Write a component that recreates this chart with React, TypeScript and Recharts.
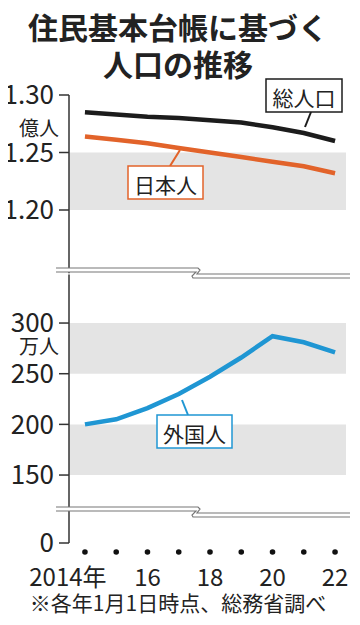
import { LineChart, Line, XAxis, YAxis, ReferenceArea } from "recharts";

const YEARS = [2014, 2015, 2016, 2017, 2018, 2019, 2020, 2021, 2022];
// 億人
const TOTAL = [1.285, 1.283, 1.281, 1.28, 1.278, 1.276, 1.272, 1.267, 1.26];
const JAPANESE = [1.264, 1.261, 1.258, 1.254, 1.25, 1.246, 1.242, 1.238, 1.232];
// 万人
const FOREIGN = [200, 205, 216, 230, 247, 266, 287, 281, 271];

const TOP_TICKS = [1.2, 1.25, 1.3];
const BOTTOM_TICKS = [150, 200, 250, 300];
const X_LABELS: Record<number, string> = { 2014: "2014年", 2016: "16", 2018: "18", 2020: "20", 2022: "22" };

const topData = YEARS.map((year, i) => ({ year, total: TOTAL[i], japanese: JAPANESE[i] }));
const bottomData = YEARS.map((year, i) => ({ year, foreign: FOREIGN[i] }));
const axisData = YEARS.map((year) => ({ year }));

const XMIN = 2013.49;
const XMAX = 2022.35;
const NARROW = "'Liberation Sans Narrow', 'Arial Narrow', 'Noto Sans CJK JP', sans-serif";
const JP = "'Noto Sans CJK JP', sans-serif";
const AXIS = "#333";
const BAND = "#e4e4e4";
const BLACK = "#1c1c1c";
const ORANGE = "#e2632a";
const BLUE = "#1f96d3";

const yAxisProps = {
  width: 69,
  tickSize: 10,
  tickMargin: 5,
  axisLine: { stroke: AXIS, strokeWidth: 1.5 },
  tickLine: { stroke: AXIS, strokeWidth: 1.5 },
  tick: { fontSize: 26, fill: "#222", fontFamily: NARROW },
  allowDataOverflow: true,
};

const YearTick = ({ x, y, payload }: any) => {
  const label = X_LABELS[payload.value];
  return (
    <g>
      <circle cx={x} cy={y + 9} r={2.8} fill="#111" />
      {label && (
        <text
          x={payload.value === 2014 ? x - 17 : x}
          y={y + 32}
          textAnchor="middle"
          dominantBaseline="central"
          fontSize={24}
          fontFamily={NARROW}
          fill="#222"
        >
          {label}
        </text>
      )}
    </g>
  );
};

const Break = ({ y }: { y: number }) => (
  <g>
    <polygon
      points={`56,${y} 198,${y} 200,${y + 2} 197,${y + 6} 350,${y + 6} 350,${y + 10} 193,${y + 10} 192,${y + 8} 196,${y + 4} 56,${y + 4}`}
      fill="#fff"
    />
    <polyline points={`56,${y} 198,${y} 200,${y + 2} 197,${y + 6} 350,${y + 6}`} fill="none" stroke="#777" strokeWidth={1.2} />
    <polyline points={`56,${y + 4} 196,${y + 4} 192,${y + 8} 193,${y + 10} 350,${y + 10}`} fill="none" stroke="#777" strokeWidth={1.2} />
  </g>
);

const Callout = ({ x, y, w, h, text, color, from, to }: any) => (
  <g>
    <line x1={from[0]} y1={from[1]} x2={to[0]} y2={to[1]} stroke={color} strokeWidth={2} />
    <rect x={x} y={y} width={w} height={h} fill="#fff" stroke={color} strokeWidth={1.5} />
    <text x={x + w / 2} y={y + h / 2 + 1} textAnchor="middle" dominantBaseline="central" fontSize={21} fontFamily={JP} fill="#222">
      {text}
    </text>
  </g>
);

export default function App() {
  return (
    <div style={{ position: "relative", width: 360, height: 625, margin: -8, background: "#fff" }}>
      <div style={{ position: "absolute", left: 0, top: 0 }}>
        <LineChart width={360} height={625} data={topData} margin={{ top: 95, right: 14, bottom: 625 - 273.25, left: 0 }}>
          <XAxis dataKey="year" type="number" domain={[XMIN, XMAX]} hide />
          <YAxis {...yAxisProps} domain={[1.145, 1.3]} ticks={TOP_TICKS} tickFormatter={(v: number) => v.toFixed(2)} />
          <ReferenceArea y1={1.2} y2={1.25} fill={BAND} fillOpacity={1} stroke="none" />
          <Line dataKey="total" stroke={BLACK} strokeWidth={4.5} dot={false} isAnimationActive={false} />
          <Line dataKey="japanese" stroke={ORANGE} strokeWidth={4.5} dot={false} isAnimationActive={false} />
        </LineChart>
      </div>
      <div style={{ position: "absolute", left: 0, top: 0 }}>
        <LineChart width={360} height={625} data={bottomData} margin={{ top: 274.4, right: 14, bottom: 625 - 509.5, left: 0 }}>
          <XAxis dataKey="year" type="number" domain={[XMIN, XMAX]} hide />
          <YAxis {...yAxisProps} domain={[116, 348]} ticks={BOTTOM_TICKS} />
          <ReferenceArea y1={250} y2={300} fill={BAND} fillOpacity={1} stroke="none" />
          <ReferenceArea y1={150} y2={200} fill={BAND} fillOpacity={1} stroke="none" />
          <Line dataKey="foreign" stroke={BLUE} strokeWidth={4.5} dot={false} isAnimationActive={false} />
        </LineChart>
      </div>
      <div style={{ position: "absolute", left: 0, top: 0 }}>
        <LineChart width={360} height={625} data={axisData} margin={{ top: 511, right: 14, bottom: 22, left: 0 }}>
          <XAxis
            dataKey="year"
            type="number"
            domain={[XMIN, XMAX]}
            ticks={YEARS}
            axisLine={false}
            tickLine={false}
            tickSize={0}
            tickMargin={0}
            height={60}
            interval={0}
            tick={<YearTick />}
          />
          <YAxis {...yAxisProps} domain={[0, 30]} ticks={[0]} />
        </LineChart>
      </div>
      <svg width={360} height={625} style={{ position: "absolute", left: 0, top: 0, pointerEvents: "none" }}>
        <text x={178} y={26} textAnchor="middle" dominantBaseline="central" fontSize={30} fontWeight={700} fontFamily={JP} fill="#222">
          住民基本台帳に基づく
        </text>
        <text x={178} y={63} textAnchor="middle" dominantBaseline="central" fontSize={30} fontWeight={700} fontFamily={JP} fill="#222">
          人口の推移
        </text>
        <text x={59} y={127} textAnchor="end" dominantBaseline="central" fontSize={20} fontFamily={JP} fill="#222">
          億人
        </text>
        <text x={59} y={345} textAnchor="end" dominantBaseline="central" fontSize={20} fontFamily={JP} fill="#222">
          万人
        </text>
        <Break y={268} />
        <Break y={507} />
        <Callout x={266} y={79} w={76} h={33} text="総人口" color={BLACK} from={[311, 112]} to={[305, 127]} />
        <Callout x={128} y={166} w={75} h={33} text="日本人" color={ORANGE} from={[170, 166]} to={[180, 150]} />
        <Callout x={157} y={415} w={75} h={33} text="外国人" color={BLUE} from={[188, 415]} to={[182, 400]} />
        <text x={178} y={602} textAnchor="middle" dominantBaseline="central" fontSize={21} fontFamily={JP} fill="#222">
          ※各年1月1日時点、総務省調べ
        </text>
      </svg>
    </div>
  );
}
